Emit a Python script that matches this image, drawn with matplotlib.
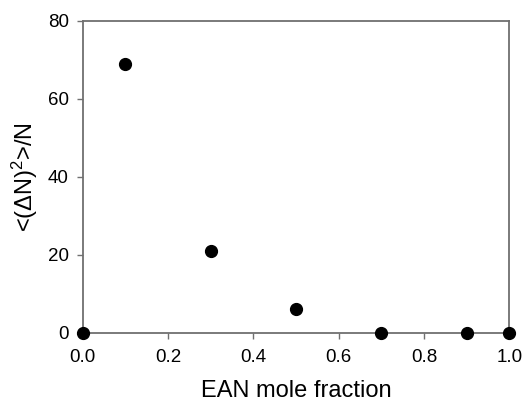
import matplotlib.pyplot as plt

plt.rcParams['font.family'] = ['Liberation Sans', 'DejaVu Sans']
plt.rcParams['mathtext.fontset'] = 'custom'
plt.rcParams['mathtext.rm'] = 'Liberation Sans'
plt.rcParams['mathtext.it'] = 'Liberation Sans'

# data
mole_fraction = [0.0, 0.1, 0.3, 0.5, 0.7, 0.9, 1.0]
fluctuation = [0.0, 69.0, 21.0, 6.1, 0.0, 0.0, 0.0]
x_ticks = [0.0, 0.2, 0.4, 0.6, 0.8, 1.0]
y_ticks = [0, 20, 40, 60, 80]

fig = plt.figure(figsize=(5.31, 4.01), dpi=100)
ax = fig.add_axes([0.156, 0.170, 0.803, 0.778])

ax.plot(mole_fraction, fluctuation, 'o', color='black', markersize=8.5, clip_on=False, zorder=3)

ax.set_xlim(0, 1.0)
ax.set_ylim(0, 80)
ax.set_xticks(x_ticks)
ax.set_xticklabels([f"{t:.1f}" for t in x_ticks])
ax.set_yticks(y_ticks)

for s in ax.spines.values():
    s.set_color('#707070')
    s.set_linewidth(1.3)

ax.tick_params(axis='both', direction='out', color='#707070', labelsize=13.5, length=4, width=1)
ax.tick_params(axis='x', pad=8)
ax.tick_params(axis='y', pad=6)
ax.set_xlabel('EAN mole fraction', fontsize=17, labelpad=10)
ax.set_ylabel('<(ΔN)$^2$>/N', fontsize=17, labelpad=6)

fig.savefig('out.png', dpi=100)
